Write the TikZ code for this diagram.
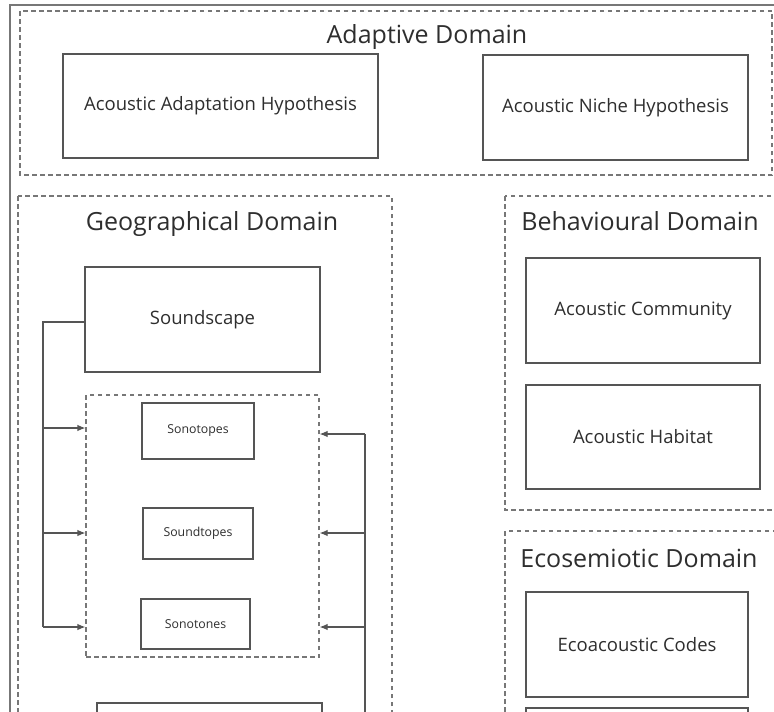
\documentclass[tikz,border=0pt]{standalone}
\usepackage{fontspec}
\setmainfont{Open Sans}
\usetikzlibrary{arrows.meta}
\definecolor{ln}{HTML}{555555}
\definecolor{tx}{HTML}{2E2E2E}
\definecolor{dl}{HTML}{777777}
\tikzset{
  box/.style={draw=ln, line width=1.3pt, rectangle, inner sep=0pt, text=tx, font=\fontsize{18.5}{22}\selectfont},
  smallbox/.style={box, font=\fontsize{12.3}{14}\selectfont},
  region/.style={draw=dl, line width=1.2pt, dash pattern=on 4.5pt off 3.5pt},
  title/.style={text=tx, inner sep=0pt, anchor=base, font=\fontsize{25}{30}\selectfont},
  conn/.style={draw=ln, line width=1.2pt},
  arr/.style={conn, -{Latex[length=8pt,width=6.5pt]}}
}
\begin{document}
\begin{tikzpicture}[x=1pt,y=-1pt]
\useasboundingbox (0,0) rectangle (774,712);
\clip (0,0) rectangle (774,712);
\fill[white] (0,0) rectangle (774,712);
% outer frame
\draw[draw=ln!80, line width=1.5pt] (10,5) rectangle (800,740);
% regions
\draw[region] (20,11) rectangle (772,175);
\draw[region] (18,196) rectangle (392,740);
\draw[region] (505,196) rectangle (800,510);
\draw[region] (505,531) rectangle (800,740);
% titles
\node[title] (tadapt) at (427,43) {Adaptive Domain};
\node[title] (tgeo) at (212,230) {Geographical Domain};
\node[title] (tbeh) at (640,230) {Behavioural Domain};
\node[title] (teco) at (639,567) {Ecosemiotic Domain};
% adaptive boxes
\node[box, minimum width=315pt, minimum height=104pt] (aah) at (220.5,106) {Acoustic Adaptation Hypothesis};
\node[box, minimum width=265pt, minimum height=105pt] (anh) at (615.5,107.5) {Acoustic Niche Hypothesis};
% geographical
\node[box, minimum width=235pt, minimum height=105pt] (scape) at (202.5,319.5) {Soundscape};
\node[region, rectangle, minimum width=233pt, minimum height=262pt, inner sep=0pt] (grp) at (202.5,526) {};
\node[smallbox, minimum width=112pt, minimum height=56pt] (sonotopes) at (198,431) {Sonotopes};
\node[smallbox, minimum width=110pt, minimum height=51pt] (soundtopes) at (198,533.5) {Soundtopes};
\node[smallbox, minimum width=109pt, minimum height=50pt] (sonotones) at (195.5,624) {Sonotones};
\node[box, minimum width=225pt, minimum height=80pt] (geobottom) at (209.5,743) {};
% behavioural
\node[box, minimum width=234pt, minimum height=105pt] (community) at (643,310.5) {Acoustic Community};
\node[box, minimum width=234pt, minimum height=104pt] (habitat) at (643,437) {Acoustic Habitat};
% ecosemiotic
\node[box, minimum width=222pt, minimum height=105pt] (codes) at (637,644.5) {Ecoacoustic Codes};
\node[box, minimum width=222pt, minimum height=80pt] (ecobottom) at (637,748) {};
% left connectors
\coordinate (lt) at (43,322);
\coordinate (lb) at (43,627);
\draw[conn] (scape.west |- lt) -- (lt) -- (lb);
\draw[arr] (43,428) -- (grp.west |- 0,428);
\draw[arr] (43,533) -- (grp.west |- 0,533);
\draw[arr] (lb) -- (grp.west |- lb);
% right connectors
\coordinate (rt) at (365,434);
\coordinate (rb) at (365,760);
\draw[conn] (rt) -- (rb);
\draw[arr] (rt) -- (grp.east |- rt);
\draw[arr] (365,533) -- (grp.east |- 0,533);
\draw[arr] (365,627) -- (grp.east |- 0,627);
\end{tikzpicture}
\end{document}
